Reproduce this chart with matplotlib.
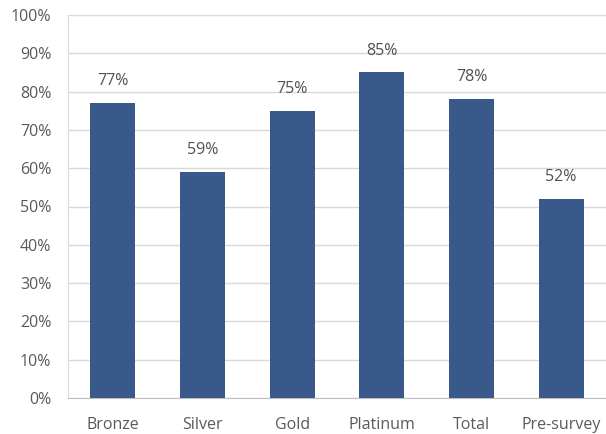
import matplotlib
matplotlib.use("Agg")
import matplotlib.pyplot as plt
from matplotlib.ticker import PercentFormatter, MultipleLocator

categories = ["Bronze", "Silver", "Gold", "Platinum", "Total", "Pre-survey"]
values = [77, 59, 75, 85, 78, 52]

plt.rcParams['font.family'] = ['Open Sans', 'DejaVu Sans']

fig = plt.figure(figsize=(6.06, 4.34), dpi=100)
ax = fig.add_axes([68 / 606, 36 / 434, (606 - 68) / 606, (398 - 15) / 434])

bar_color = "#38598a"
text_color = "#595959"
x = range(len(categories))
ax.bar(x, values, width=0.5, color=bar_color, zorder=3)

for xi, v in zip(x, values):
    ax.annotate(f"{v}%", (xi, v), xytext=(0, 10), textcoords="offset points",
                ha="center", va="bottom", fontsize=11.5, color="#505050")

ax.set_xlim(-0.5, len(categories) - 0.5)
ax.set_ylim(0, 100)
ax.yaxis.set_major_locator(MultipleLocator(10))
ax.yaxis.set_major_formatter(PercentFormatter(decimals=0))
ax.set_xticks(list(x))
ax.set_xticklabels(categories)

ax.grid(axis="y", color="#d9d9d9", linewidth=1, zorder=0)
for side in ("top", "right"):
    ax.spines[side].set_visible(False)
ax.spines["left"].set_color("#d9d9d9")
ax.spines["bottom"].set_color("#bfbfbf")
ax.tick_params(axis="both", length=0, labelsize=11.5, colors=text_color)
ax.tick_params(axis="x", pad=14)
ax.tick_params(axis="y", pad=12)

fig.savefig("out.png", dpi=100)
